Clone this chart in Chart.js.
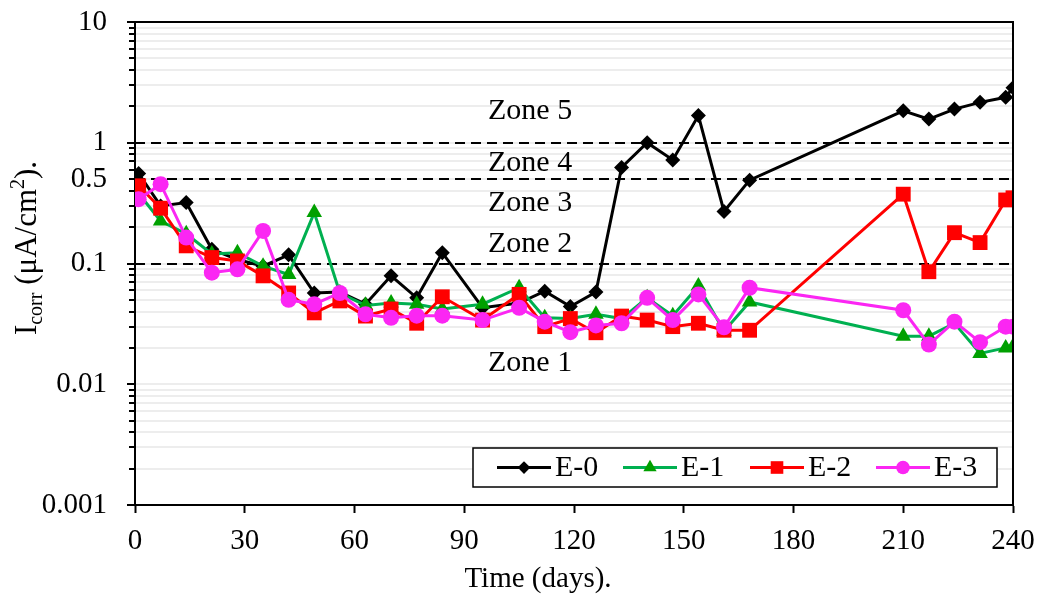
<!DOCTYPE html>
<html>
<head>
<meta charset="utf-8">
<script src="https://cdn.jsdelivr.net/npm/chart.js@4/dist/chart.umd.min.js"></script>
<style>
  html, body { margin: 0; padding: 0; background: #fff; }
  #wrap { width: 1041px; height: 598px; }
</style>
</head>
<body>
<div id="wrap"><canvas id="c" width="1041" height="598"></canvas></div>
<script>
// ---------- data ----------
const days = [1, 7, 14, 21, 28, 35, 42, 49, 56, 63, 70, 77, 84, 95, 105, 112, 119, 126, 133, 140, 147, 154, 161, 168, 210, 217, 224, 231, 238, 240];
const seriesNames = ['E-0', 'E-1', 'E-2', 'E-3'];
const e0 = [0.556, 0.30, 0.32, 0.131, 0.108, 0.095, 0.118, 0.057, 0.058, 0.046, 0.079, 0.052, 0.123, 0.043, 0.047, 0.059, 0.044, 0.058, 0.624, 1.0, 0.72, 1.68, 0.27, 0.49, 1.84, 1.57, 1.90, 2.16, 2.38, 2.86];
const e1 = [0.38, 0.225, 0.176, 0.12, 0.123, 0.095, 0.081, 0.264, 0.057, 0.045, 0.047, 0.046, 0.042, 0.046, 0.063, 0.0355, 0.035, 0.038, 0.035, 0.052, 0.037, 0.065, 0.0275, 0.048, 0.025, 0.025, 0.032, 0.018, 0.020, 0.0205];
const e2 = [0.44, 0.287, 0.14, 0.112, 0.105, 0.079, 0.057, 0.039, 0.049, 0.0367, 0.042, 0.032, 0.053, 0.034, 0.0555, 0.030, 0.035, 0.0267, 0.0367, 0.034, 0.030, 0.032, 0.028, 0.028, 0.375, 0.0855, 0.18, 0.149, 0.336, 0.35];
const e3 = [0.341, 0.454, 0.164, 0.084, 0.0895, 0.186, 0.050, 0.046, 0.057, 0.038, 0.0355, 0.037, 0.037, 0.034, 0.043, 0.033, 0.027, 0.0307, 0.032, 0.052, 0.034, 0.0555, 0.0296, 0.063, 0.041, 0.0213, 0.033, 0.0223, 0.030, 0.030];

const xTicks = [0, 30, 60, 90, 120, 150, 180, 210, 240];
const yTickValues = [
  0.001, 0.002, 0.003, 0.004, 0.005, 0.006, 0.007, 0.008, 0.009,
  0.01, 0.02, 0.03, 0.04, 0.05, 0.06, 0.07, 0.08, 0.09,
  0.1, 0.2, 0.3, 0.4, 0.5, 0.6, 0.7, 0.8, 0.9,
  1, 2, 3, 4, 5, 6, 7, 8, 9, 10
];
const yTickLabels = { 0.001: '0.001', 0.01: '0.01', 0.1: '0.1', 0.5: '0.5', 1: '1', 10: '10' };
const yMajor = [0.001, 0.01, 0.1, 1, 10];
const xTitle = 'Time (days).';

const zoneLines = [0.1, 0.5, 1];
const zoneNames = ['Zone 1', 'Zone 2', 'Zone 3', 'Zone 4', 'Zone 5'];
// annotation anchor (day, value) for each zone label
const zoneLabelDay = 108;
const zoneLabelValue = [0.0150, 0.144, 0.318, 0.683, 1.84];

// ---------- styles ----------
const FONT = '"Liberation Serif", "Times New Roman", serif';
const styles = [
  { line: '#000000', point: '#000000', shape: 'rectRot', r: 7.5 },
  { line: '#00b050', point: '#00a000', shape: 'triangle', r: 9 },
  { line: '#ff0000', point: '#ff0000', shape: 'rect', r: 10.5 },
  { line: '#fb26f3', point: '#fb26f3', shape: 'circle', r: 8 }
];
const seriesValues = [e0, e1, e2, e3];

const datasets = seriesValues.map((vals, i) => ({
  label: seriesNames[i],
  data: days.map((d, k) => ({ x: d, y: vals[k] })),
  borderColor: styles[i].line,
  backgroundColor: styles[i].point,
  pointBackgroundColor: styles[i].point,
  pointBorderColor: styles[i].point,
  pointBorderWidth: 0,
  pointStyle: styles[i].shape,
  pointRadius: styles[i].r,
  borderWidth: 3,
  tension: 0,
  order: 4 - i
}));

function drawMarker(ctx, shape, x, y, r, color) {
  ctx.save();
  ctx.fillStyle = color;
  ctx.beginPath();
  if (shape === 'circle') {
    ctx.arc(x, y, r, 0, Math.PI * 2);
  } else if (shape === 'rect') {
    const s = r * Math.SQRT1_2;
    ctx.rect(x - s, y - s, 2 * s, 2 * s);
  } else if (shape === 'rectRot') {
    ctx.moveTo(x, y - r); ctx.lineTo(x + r, y); ctx.lineTo(x, y + r); ctx.lineTo(x - r, y); ctx.closePath();
  } else if (shape === 'triangle') {
    ctx.moveTo(x, y - r);
    ctx.lineTo(x + r * Math.sin(Math.PI * 2 / 3), y - r * Math.cos(Math.PI * 2 / 3));
    ctx.lineTo(x - r * Math.sin(Math.PI * 2 / 3), y - r * Math.cos(Math.PI * 2 / 3));
    ctx.closePath();
  }
  ctx.fill();
  ctx.restore();
}

const decorPlugin = {
  id: 'decor',
  beforeDatasetsDraw(chart) {
    const { ctx, chartArea: a, scales: { x, y } } = chart;
    ctx.save();
    // dashed zone boundaries
    ctx.strokeStyle = '#000';
    ctx.lineWidth = 2;
    ctx.setLineDash([10, 6]);
    zoneLines.forEach(v => {
      const py = Math.round(y.getPixelForValue(v));
      ctx.beginPath();
      ctx.moveTo(a.left, py);
      ctx.lineTo(a.right, py);
      ctx.stroke();
    });
    ctx.setLineDash([]);
    // zone labels
    ctx.fillStyle = '#000';
    ctx.font = '30px ' + FONT;
    ctx.textAlign = 'center';
    ctx.textBaseline = 'middle';
    zoneNames.forEach((n, i) => {
      ctx.fillText(n, x.getPixelForValue(zoneLabelDay), y.getPixelForValue(zoneLabelValue[i]));
    });
    ctx.restore();
  },
  afterDraw(chart) {
    const { ctx, chartArea: a, scales: { y } } = chart;
    ctx.save();
    // frame top/right
    ctx.strokeStyle = '#000';
    ctx.lineWidth = 2;
    ctx.beginPath();
    ctx.moveTo(a.left, a.top);
    ctx.lineTo(a.right, a.top);
    ctx.lineTo(a.right, a.bottom);
    ctx.stroke();
    // y tick marks (major and minor)
    yTickValues.forEach(v => {
      const py = Math.round(y.getPixelForValue(v));
      const len = yMajor.includes(v) ? 8 : 6;
      ctx.beginPath();
      ctx.moveTo(a.left - len, py);
      ctx.lineTo(a.left, py);
      ctx.stroke();
    });
    // x-axis title (placed as in the original, left of chart-area centre)
    ctx.fillStyle = '#000';
    ctx.font = '29px ' + FONT;
    ctx.textAlign = 'center';
    ctx.textBaseline = 'middle';
    ctx.fillText(xTitle, 538, 579);
    // y-axis title with subscript/superscript
    const big = '31px ' + FONT, small = '20px ' + FONT;
    const parts = [
      { t: 'I', f: big, dy: 0 },
      { t: 'corr', f: small, dy: 6 },
      { t: ' (\u03bcA/cm', f: big, dy: 0 },
      { t: '2', f: small, dy: -12 },
      { t: ').', f: big, dy: 0 }
    ];
    let total = 0;
    parts.forEach(p => { ctx.font = p.f; p.w = ctx.measureText(p.t).width; total += p.w; });
    ctx.translate(26, 248);
    ctx.rotate(-Math.PI / 2);
    ctx.textBaseline = 'alphabetic';
    ctx.textAlign = 'left';
    let cx = -total / 2;
    parts.forEach(p => { ctx.font = p.f; ctx.fillText(p.t, cx, 10 + p.dy); cx += p.w; });
    ctx.restore();

    // legend
    ctx.save();
    const lx = 473, ly = 448, lw = 524, lh = 39;
    ctx.fillStyle = '#fff';
    ctx.fillRect(lx, ly, lw, lh);
    ctx.strokeStyle = '#000';
    ctx.lineWidth = 1.5;
    ctx.strokeRect(lx, ly, lw, lh);
    const itemX = [497, 623, 750, 876];
    const cy = ly + lh / 2;
    chart.data.datasets.forEach((ds, i) => {
      const x0 = itemX[i];
      ctx.strokeStyle = ds.borderColor;
      ctx.lineWidth = 3;
      ctx.beginPath();
      ctx.moveTo(x0, cy);
      ctx.lineTo(x0 + 54, cy);
      ctx.stroke();
      drawMarker(ctx, ds.pointStyle, x0 + 27, cy, ds.pointRadius * 0.85, ds.pointBackgroundColor);
      ctx.fillStyle = '#000';
      ctx.font = '30px ' + FONT;
      ctx.textAlign = 'left';
      ctx.textBaseline = 'middle';
      ctx.fillText(ds.label, x0 + 58, cy + 1);
    });
    ctx.restore();
  }
};

new Chart(document.getElementById('c'), {
  type: 'line',
  data: { datasets },
  options: {
    responsive: false,
    animation: false,
    devicePixelRatio: 1,
    layout: { padding: { left: 0, right: 28, top: 22, bottom: 0 } },
    plugins: { legend: { display: false }, tooltip: { enabled: false } },
    scales: {
      x: {
        type: 'linear',
        min: 0, max: 240,
        afterBuildTicks: s => { s.ticks = xTicks.map(v => ({ value: v })); },
        afterFit: s => { s.height = 93; s.paddingLeft = 0; s.paddingRight = 0; },
        ticks: { color: '#000', font: { family: FONT, size: 29 }, padding: 11, maxRotation: 0, autoSkip: false },
        grid: { drawOnChartArea: false, drawTicks: true, tickLength: 8, tickColor: '#000', tickWidth: 2 },
        border: { display: true, color: '#000', width: 2 },
        title: { display: false }
      },
      y: {
        type: 'logarithmic',
        min: 0.001, max: 10,
        afterBuildTicks: s => { s.ticks = yTickValues.map(v => ({ value: v })); },
        afterFit: s => { s.width = 135; s.paddingTop = 0; s.paddingBottom = 0; },
        ticks: {
          color: '#000', font: { family: FONT, size: 29 }, padding: 28, autoSkip: false,
          callback: v => (yTickLabels[v] !== undefined ? yTickLabels[v] : '')
        },
        grid: {
          drawTicks: false,
          lineWidth: 2,
          color: c => (c.tick && c.tick.value === 10 ? 'rgba(0,0,0,0)' : '#ededed')
        },
        border: { display: true, color: '#000', width: 2 }
      }
    }
  },
  plugins: [decorPlugin]
});
</script>
</body>
</html>
